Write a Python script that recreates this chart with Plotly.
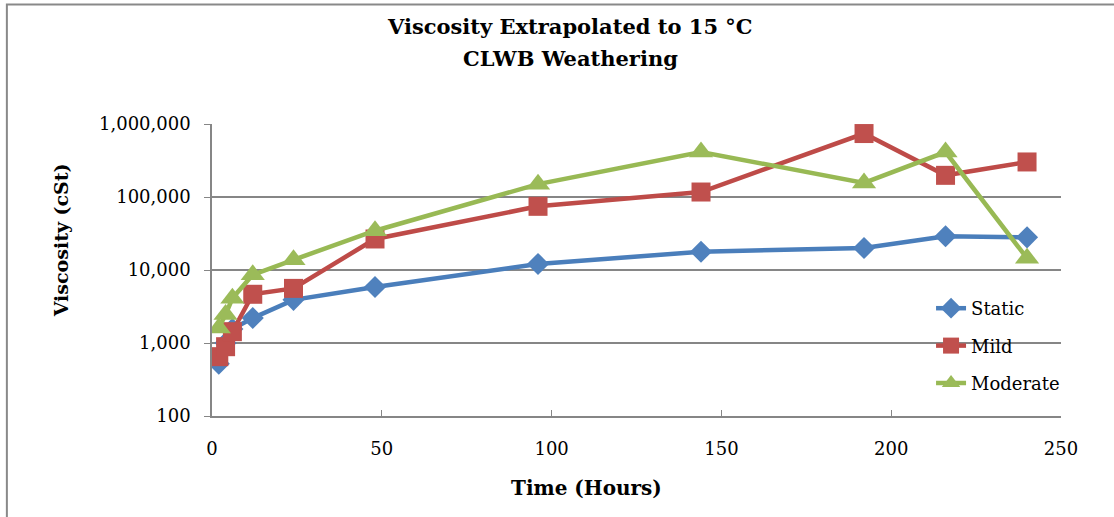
import plotly.graph_objects as go

hours = [2, 4, 6, 12, 24, 48, 96, 144, 192, 216, 240]
static = [520, 1000, 1550, 2200, 3900, 5850, 12100, 17800, 20000, 29000, 28000]
mild = [650, 890, 1430, 4650, 5600, 26600, 74500, 117000, 740000, 198000, 302000]
moderate = [1600, 2450, 4100, 8600, 13800, 34500, 150000, 413000, 156000, 413000, 14500]

series_names = ["Static", "Mild", "Moderate"]
y_ticks = [100, 1000, 10000, 100000, 1000000]
y_tick_text = ["100", "1,000", "10,000", "100,000", "1,000,000"]
x_ticks = [0, 50, 100, 150, 200, 250]

FONT = "DejaVu Serif"
GRID = "#868686"

# pixel layout helpers
W, H = 1114, 517
L, R, T, B = 211.7, 53, 124, 101
PW = W - L - R
PH = H - T - B


def px(x):
    return (x - L) / PW


def py(y):
    return (H - B - y) / PH


fig = go.Figure()
styles = [
    dict(line=dict(color="#4A7EBB", width=4.5), marker=dict(symbol="diamond", size=17, color="#4F81BD")),
    dict(line=dict(color="#BE4B48", width=4.5), marker=dict(symbol="square", size=19, color="#C0504D")),
    dict(line=dict(color="#98B954", width=4.5), marker=dict(symbol="triangle-up", size=21, color="#9BBB59")),
]
for name, vals, st in zip(series_names, [static, mild, moderate], styles):
    fig.add_trace(go.Scatter(x=hours, y=vals, name=name, mode="lines+markers",
                             legendgroup=name, **st))

fig.update_layout(
    width=W, height=H,
    margin=dict(l=L, r=R, t=T, b=B),
    paper_bgcolor="white", plot_bgcolor="white",
    font=dict(family=FONT, size=18, color="black"),
    showlegend=True,
    legend=dict(x=px(931), y=py(290), xanchor="left", yanchor="top",
                bgcolor="rgba(0,0,0,0)", font=dict(size=18, family=FONT),
                tracegroupgap=11, itemwidth=30),
    xaxis=dict(range=[0, 250], tickvals=x_ticks, ticks="inside", ticklen=6,
               tickcolor=GRID, showline=True, linecolor=GRID, linewidth=1.5,
               showgrid=False, zeroline=False, ticklabelstandoff=16,
               tickfont=dict(size=18, family=FONT)),
    yaxis=dict(type="log", range=[2, 6], tickvals=y_ticks, ticktext=y_tick_text,
               ticks="outside", ticklen=6, tickcolor=GRID, showline=True,
               linecolor=GRID, linewidth=1.5, showgrid=True, gridcolor=GRID,
               gridwidth=1.5, zeroline=False, ticklabelstandoff=10,
               tickfont=dict(size=18, family=FONT)),
    shapes=[dict(type="rect", xref="paper", yref="paper",
                 x0=px(6.5), x1=px(1140), y0=py(540), y1=py(4.5),
                 line=dict(color="#898989", width=2), layer="below")],
    annotations=[
        dict(text="<b>Viscosity Extrapolated to 15 °C</b>", xref="paper", yref="paper",
             x=px(570), y=py(26), xanchor="center", yanchor="middle", showarrow=False,
             font=dict(size=21, family=FONT)),
        dict(text="<b>CLWB Weathering</b>", xref="paper", yref="paper",
             x=px(570), y=py(58), xanchor="center", yanchor="middle", showarrow=False,
             font=dict(size=21, family=FONT)),
        dict(text="<b>Time (Hours)</b>", xref="paper", yref="paper",
             x=px(586), y=py(488), xanchor="center", yanchor="middle", showarrow=False,
             font=dict(size=20, family=FONT)),
        dict(text="<b>Viscosity (cSt)</b>", xref="paper", yref="paper",
             x=px(61), y=py(240), xanchor="center", yanchor="middle", showarrow=False,
             textangle=-90, font=dict(size=19, family=FONT)),
    ],
)

fig.write_html("out.html")
